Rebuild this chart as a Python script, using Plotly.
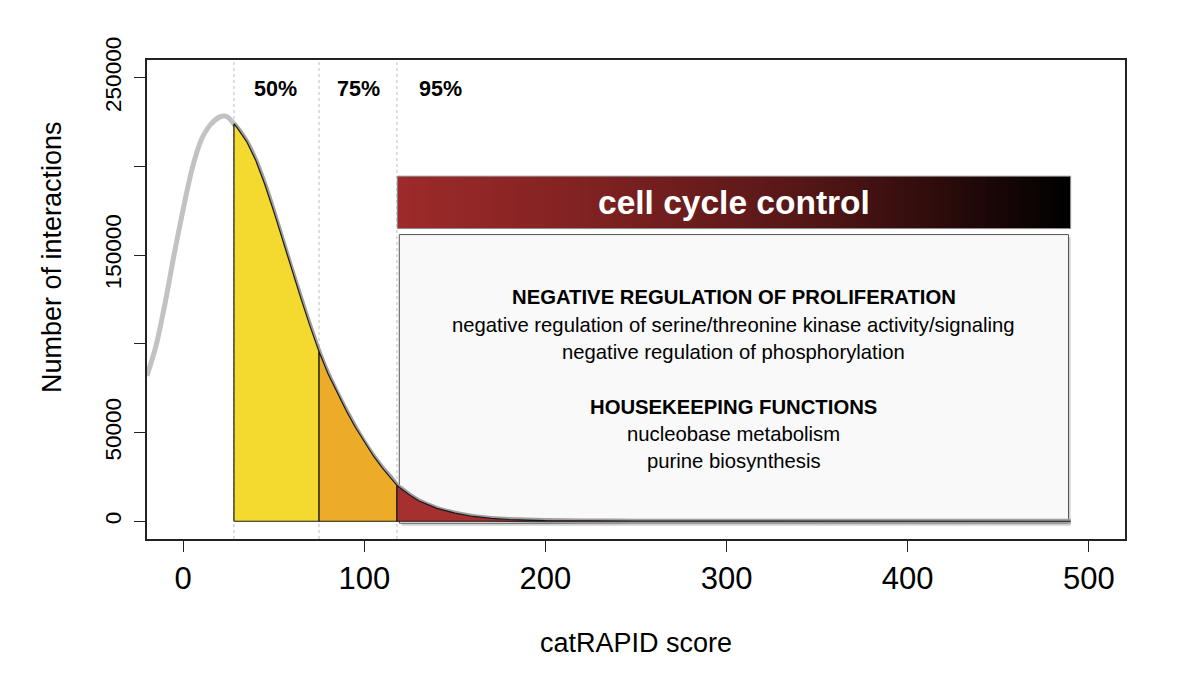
import numpy as np
import plotly.graph_objects as go

# ---- data ----
score = [-20, -15, -10, -5, 0, 5, 10, 15, 20, 23, 25, 28, 30, 35, 40, 45, 50, 55, 60, 65, 70,
         75, 80, 85, 90, 95, 100, 105, 110, 115, 118, 120, 125, 130, 140, 150, 160, 170, 180,
         200, 220, 250, 300, 400, 490]
interactions = [82000, 99000, 123000, 150500, 176000, 199000, 215000, 223500, 227800, 228400,
                227500, 224000, 221500, 214000, 203500, 190000, 174500, 158000, 141500, 125500,
                110000, 95500, 83000, 72300, 62300, 53000, 44500, 36800, 30000, 24200, 20200,
                18600, 14800, 11600, 7300, 4600, 2700, 1600, 1000, 400, 180, 70, 20, 0, 0]
cutoffs = [28, 75, 118]
cutoff_labels = ["50%", "75%", "95%"]
label_x = [51, 97, 142]
fill_colors = ["#f4d92f", "#ecac28", "#a62f2f"]
x_end = 490

x_ticks = [0, 100, 200, 300, 400, 500]
y_ticks = [0, 50000, 100000, 150000, 200000, 250000]
y_ticktext = ["0", "50000", "", "150000", "", "250000"]

banner_text = "cell cycle control"
box_lines = [
    ("<b>NEGATIVE REGULATION OF PROLIFERATION</b>", 126400),
    ("negative regulation of serine/threonine kinase activity/signaling", 110600),
    ("negative regulation of phosphorylation", 95400),
    ("<b>HOUSEKEEPING FUNCTIONS</b>", 64300),
    ("nucleobase metabolism", 49100),
    ("purine biosynthesis", 33900),
]

FONT = "Liberation Sans, Arial, Helvetica, sans-serif"

fig = go.Figure()

# full gray density curve
fig.add_trace(go.Scatter(x=score, y=interactions, mode="lines",
                         line=dict(color="#c2c2c2", width=5, shape="spline", smoothing=0.8),
                         hoverinfo="skip", showlegend=False))

# soft shadow along the highlighted part
sx = [s for s in score if s >= cutoffs[0]]
sy = [v for s, v in zip(score, interactions) if s >= cutoffs[0]]
fig.add_trace(go.Scatter(x=sx, y=sy, mode="lines",
                         line=dict(color="rgba(0,0,0,0.18)", width=5, shape="spline",
                                   smoothing=0.8),
                         hoverinfo="skip", showlegend=False))

bounds = cutoffs + [x_end]
for i in range(3):
    a, b = bounds[i], bounds[i + 1]
    xs = [s for s in score if a <= s <= b]
    ys = [v for s, v in zip(score, interactions) if a <= s <= b]
    px = [a] + xs + [b, a]
    py = [0] + ys + [0, 0]
    fig.add_trace(go.Scatter(x=px, y=py, mode="lines", fill="toself",
                             fillcolor=fill_colors[i],
                             line=dict(color="#1a1a1a", width=1.2),
                             hoverinfo="skip", showlegend=False))

# gradient banner
bx0, bx1, by0, by1 = 118.2, 490, 165000, 194500
N = 200
edges = np.linspace(bx0, bx1, N + 1)
fig.add_trace(go.Heatmap(x=edges, y=[by0, by1], z=[list(range(N))],
                         colorscale=[[0, "#9e2a2a"], [0.3, "#7e2121"], [0.6, "#561717"],
                                     [0.8, "#2f0c0c"], [1, "#000000"]],
                         showscale=False, hoverinfo="skip"))

shapes = []
# text box shadow + box
tx0, tx1, ty0, ty1 = 119.3, 488.8, -1100, 161600
shapes.append(dict(type="rect", xref="x", yref="y", x0=tx0 + 1.2, x1=tx1 + 1.2, y0=ty0 - 1500,
                   y1=ty1 - 1500, fillcolor="rgba(0,0,0,0.18)", line=dict(width=0),
                   layer="below"))
shapes.append(dict(type="rect", xref="x", yref="y", x0=tx0, x1=tx1, y0=ty0, y1=ty1,
                   fillcolor="#f9f9f9", line=dict(color="#555555", width=1), layer="below"))
# banner border
shapes.append(dict(type="rect", xref="x", yref="y", x0=bx0, x1=bx1, y0=by0, y1=by1,
                   fillcolor="rgba(0,0,0,0)", line=dict(color="#8a8a8a", width=1),
                   layer="above"))
# dotted cutoff lines
for c in cutoffs:
    shapes.append(dict(type="line", xref="x", yref="paper", x0=c, x1=c, y0=0, y1=1,
                       line=dict(color="#bdbdbd", width=1, dash="dot"), layer="below"))

annotations = []
for lab, lx in zip(cutoff_labels, label_x):
    annotations.append(dict(x=lx, y=243500, xref="x", yref="y", text=f"<b>{lab}</b>",
                            showarrow=False, font=dict(family=FONT, size=21.5, color="black")))
annotations.append(dict(x=(bx0 + bx1) / 2, y=(by0 + by1) / 2, xref="x", yref="y",
                        text=f"<b>{banner_text}</b>", showarrow=False,
                        font=dict(family=FONT, size=33.5, color="white")))
for txt, yy in box_lines:
    annotations.append(dict(x=(tx0 + tx1) / 2, y=yy, xref="x", yref="y", text=txt,
                            showarrow=False, font=dict(family=FONT, size=20.3, color="black")))
annotations.append(dict(x=0.5, y=-0.217, xref="paper", yref="paper", text="catRAPID score",
                        xanchor="center", yanchor="middle",
                        showarrow=False, font=dict(family=FONT, size=27, color="black")))
annotations.append(dict(x=-0.097, y=0.589, xref="paper", yref="paper",
                        text="Number of interactions", textangle=-90,
                        xanchor="center", yanchor="middle",
                        showarrow=False, font=dict(family=FONT, size=27, color="black")))

fig.update_layout(
    width=1200, height=681,
    margin=dict(l=139, r=83, t=52, b=150),
    paper_bgcolor="white", plot_bgcolor="white",
    shapes=shapes, annotations=annotations,
    xaxis=dict(range=[-20, 520], tickvals=x_ticks, ticks="outside", ticklen=11,
               tickcolor="#222", showline=True, mirror=True, linecolor="#222", linewidth=1.5,
               showgrid=False, zeroline=False,
               tickfont=dict(family=FONT, size=31, color="black")),
    yaxis=dict(range=[-10000, 260000], tickvals=y_ticks, ticktext=y_ticktext,
               ticks="outside", ticklen=11, tickcolor="#222", tickangle=-90,
               ticklabelstandoff=4,
               showline=True, mirror=True, linecolor="#222", linewidth=1.5,
               showgrid=False, zeroline=False,
               tickfont=dict(family=FONT, size=22.5, color="black")),
)

fig.write_html("out.html")
